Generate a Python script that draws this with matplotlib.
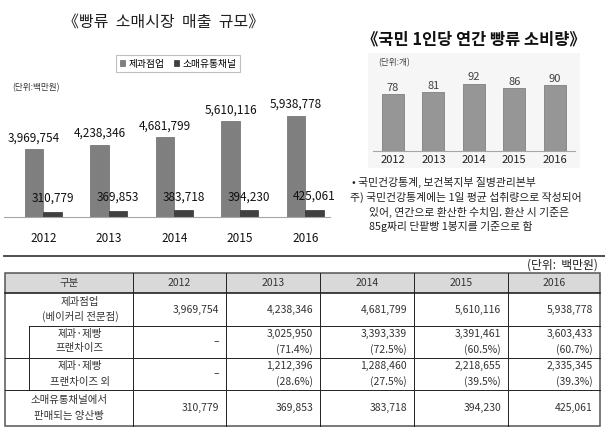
#%% Imports
import numpy as np
import matplotlib
matplotlib.use("Agg")
import matplotlib.pyplot as plt
from matplotlib.patches import Rectangle

plt.rcParams['font.family'] = ['Noto Sans CJK KR', 'DejaVu Sans']

#%% Data
years = [2012, 2013, 2014, 2015, 2016]
bakery = [3969754, 4238346, 4681799, 5610116, 5938778]      # 제과점업
retail = [310779, 369853, 383718, 394230, 425061]           # 소매유통채널
per_capita = [78, 81, 92, 86, 90]                           # 1인당 소비량 (개)

franchise = [None, 3025950, 3393339, 3391461, 3603433]
franchise_pct = [None, 71.4, 72.5, 60.5, 60.7]
non_franchise = [None, 1212396, 1288460, 2218655, 2335345]
non_franchise_pct = [None, 28.6, 27.5, 39.5, 39.3]

notes = ["• 국민건강통계, 보건복지부 질병관리본부",
         "주) 국민건강통계에는 1일 평균 섭취량으로 작성되어",
         "있어, 연간으로 환산한 수치임. 환산 시 기준은",
         "85g짜리 단팥빵 1봉지를 기준으로 함"]

#%% Figure + pixel helpers
W, H = 605, 430
fig = plt.figure(figsize=(W/100, H/100), dpi=100)

def box(x0, y0, x1, y1):
    # pixel box (top-left origin) -> figure fraction rect
    return [x0/W, 1 - y1/H, (x1 - x0)/W, (y1 - y0)/H]

# background layer in pixel coords
bg = fig.add_axes([0, 0, 1, 1])
bg.set_xlim(0, W)
bg.set_ylim(H, 0)
bg.axis('off')

#%% Left chart: 빵류 소매시장 매출 규모
bg.text(164, 22, "《빵류  소매시장  매출  규모》", fontsize=11.5, ha='center', va='center', color='#222222')
bg.text(12, 88, "(단위:백만원)", fontsize=6.2, ha='left', va='center', color='#333333')

ax1 = fig.add_axes(box(4, 100, 330, 217))
ax1.patch.set_alpha(0)
x = np.arange(len(years))
w = 0.282
b1 = ax1.bar(x - w/2, bakery, w, color='#7f7f7f', edgecolor='#6a6a6a', linewidth=0.5, label='제과점업')
b2 = ax1.bar(x + w/2, retail, w, color='#404040', edgecolor='#333333', linewidth=0.5, label='소매유통채널')
ax1.set_xlim(-0.599, 4.378)
ax1.set_ylim(0, 6.862e6)
for i in range(len(years)):
    ax1.annotate(f"{bakery[i]:,}", (x[i] - w/2, bakery[i]), xytext=(0, 3.5), textcoords='offset points',
                 ha='center', va='bottom', fontsize=8.5, color='#111111')
    ax1.annotate(f"{retail[i]:,}", (x[i] + w/2, retail[i]), xytext=(0, 5), textcoords='offset points',
                 ha='center', va='bottom', fontsize=8.5, color='#111111')
ax1.set_xticks(x)
ax1.set_xticklabels([str(y) for y in years], fontsize=8.5, color='#111111')
ax1.tick_params(axis='x', length=0, pad=10.5)
ax1.set_yticks([])
for s in ['top', 'left', 'right']:
    ax1.spines[s].set_visible(False)
ax1.spines['bottom'].set_color('#a6a6a6')
ax1.spines['bottom'].set_linewidth(0.8)

leg = fig.legend(handles=[b1, b2], loc='center', bbox_to_anchor=(178/W, 1 - 63.5/H), ncol=2,
                 fontsize=7, handlelength=0.55, handleheight=0.55, handletextpad=0.3,
                 columnspacing=1.0, borderpad=0.35, fancybox=False, framealpha=1)
leg.get_frame().set_edgecolor('#bfbfbf')
leg.get_frame().set_linewidth(0.8)

#%% Right chart: 국민 1인당 연간 빵류 소비량
bg.text(474, 39, "《국민 1인당 연간 빵류 소비량》", fontsize=11.8, fontweight='bold',
        ha='center', va='center', color='#111111')
bg.add_patch(Rectangle((368, 53), 212, 115, facecolor='#f6f6f6', edgecolor='none'))
bg.text(378, 63, "(단위:개)", fontsize=6.2, ha='left', va='center', color='#404040')

ax2 = fig.add_axes(box(373, 70, 575, 151))
ax2.patch.set_alpha(0)
ax2.bar(x, per_capita, 0.545, color='#969696', edgecolor='#808080', linewidth=0.6)
ax2.set_xlim(-0.495, 4.505)
ax2.set_ylim(0, 111)
for i in range(len(years)):
    ax2.annotate(str(per_capita[i]), (x[i], per_capita[i]), xytext=(0, 1), textcoords='offset points',
                 ha='center', va='bottom', fontsize=8, color='#404040')
ax2.set_xticks(x)
ax2.set_xticklabels([str(y) for y in years], fontsize=8, color='#222222')
ax2.tick_params(axis='x', length=0, pad=3)
ax2.set_yticks([])
for s in ['top', 'left', 'right']:
    ax2.spines[s].set_visible(False)
ax2.spines['bottom'].set_color('#a6a6a6')
ax2.spines['bottom'].set_linewidth(0.8)

bg.text(352, 182, notes[0], fontsize=7.8, ha='left', va='center', color='#222222')
bg.text(350, 197, notes[1], fontsize=7.8, ha='left', va='center', color='#222222')
bg.text(369, 212, notes[2], fontsize=7.8, ha='left', va='center', color='#222222')
bg.text(369, 226, notes[3], fontsize=7.8, ha='left', va='center', color='#222222')

# separator under the charts
bg.plot([4, W], [256, 256], color='#404040', lw=1.3)

#%% Table
bg.text(598, 265, "(단위:  백만원)", fontsize=8.5, ha='right', va='center', color='#222222')

cols = [5, 133, 226, 320, 414, 508, 600]
rows = [272.7, 293.3, 325.7, 357.7, 390, 425.7]
sub_x = 29
tc = '#333333'
fs = 7.5

bg.add_patch(Rectangle((cols[0], rows[0]), cols[-1] - cols[0], rows[1] - rows[0],
                       facecolor='#d9d9d9', edgecolor='none'))
# horizontal lines
bg.plot([cols[0], cols[-1]], [rows[1], rows[1]], color='#222222', lw=1.2)
bg.plot([sub_x, cols[-1]], [rows[2], rows[2]], color='#222222', lw=0.7)
bg.plot([cols[0], cols[-1]], [rows[3], rows[3]], color='#222222', lw=0.7)
bg.plot([cols[0], cols[-1]], [rows[4], rows[4]], color='#222222', lw=0.7)
# vertical lines
for cx in cols[1:-1]:
    bg.plot([cx, cx], [rows[0], rows[-1]], color='#222222', lw=0.7)
bg.plot([sub_x, sub_x], [rows[2], rows[4]], color='#222222', lw=0.7)
# outer border
bg.add_patch(Rectangle((cols[0], rows[0]), cols[-1] - cols[0], rows[-1] - rows[0],
                       facecolor='none', edgecolor='#555555', lw=1.1))

# header
hy = (rows[0] + rows[1]) / 2
bg.text((cols[0] + cols[1]) / 2, hy, "구분", fontsize=fs, ha='center', va='center', color=tc)
for j, yr in enumerate(years):
    bg.text((cols[j+1] + cols[j+2]) / 2, hy, str(yr), fontsize=fs, ha='center', va='center', color=tc)

# row labels
lx = 80
bg.text(lx, 301.5, "제과점업", fontsize=fs, ha='center', va='center', color=tc)
bg.text(lx, 316, "(베이커리 전문점)", fontsize=fs, ha='center', va='center', color=tc)
bg.text(lx, 333.5, "제과·제빵", fontsize=fs, ha='center', va='center', color=tc)
bg.text(lx, 348.5, "프랜차이즈", fontsize=fs, ha='center', va='center', color=tc)
bg.text(lx, 366, "제과·제빵", fontsize=fs, ha='center', va='center', color=tc)
bg.text(lx, 381.5, "프랜차이즈 외", fontsize=fs, ha='center', va='center', color=tc)
bg.text(69, 400, "소매유통채널에서", fontsize=fs, ha='center', va='center', color=tc)
bg.text(69, 415.5, "판매되는 양산빵", fontsize=fs, ha='center', va='center', color=tc)

def two_line(row_top, row_bot, vals, pcts):
    for j in range(len(years)):
        rx = cols[j+2] - 7
        if vals[j] is None:
            bg.text(rx, (row_top + row_bot) / 2, "–", fontsize=fs, ha='right', va='center', color=tc)
        else:
            bg.text(rx, row_top + 8.5, f"{vals[j]:,}", fontsize=fs, ha='right', va='center', color=tc)
            bg.text(rx, row_top + 23.5, f"({pcts[j]}%)", fontsize=fs, ha='right', va='center', color=tc)

for j in range(len(years)):
    rx = cols[j+2] - 7
    bg.text(rx, (rows[1] + rows[2]) / 2, f"{bakery[j]:,}", fontsize=fs, ha='right', va='center', color=tc)
    bg.text(rx, (rows[4] + rows[5]) / 2, f"{retail[j]:,}", fontsize=fs, ha='right', va='center', color=tc)
two_line(rows[2], rows[3], franchise, franchise_pct)
two_line(rows[3], rows[4], non_franchise, non_franchise_pct)

fig.savefig("out.png", dpi=100)
